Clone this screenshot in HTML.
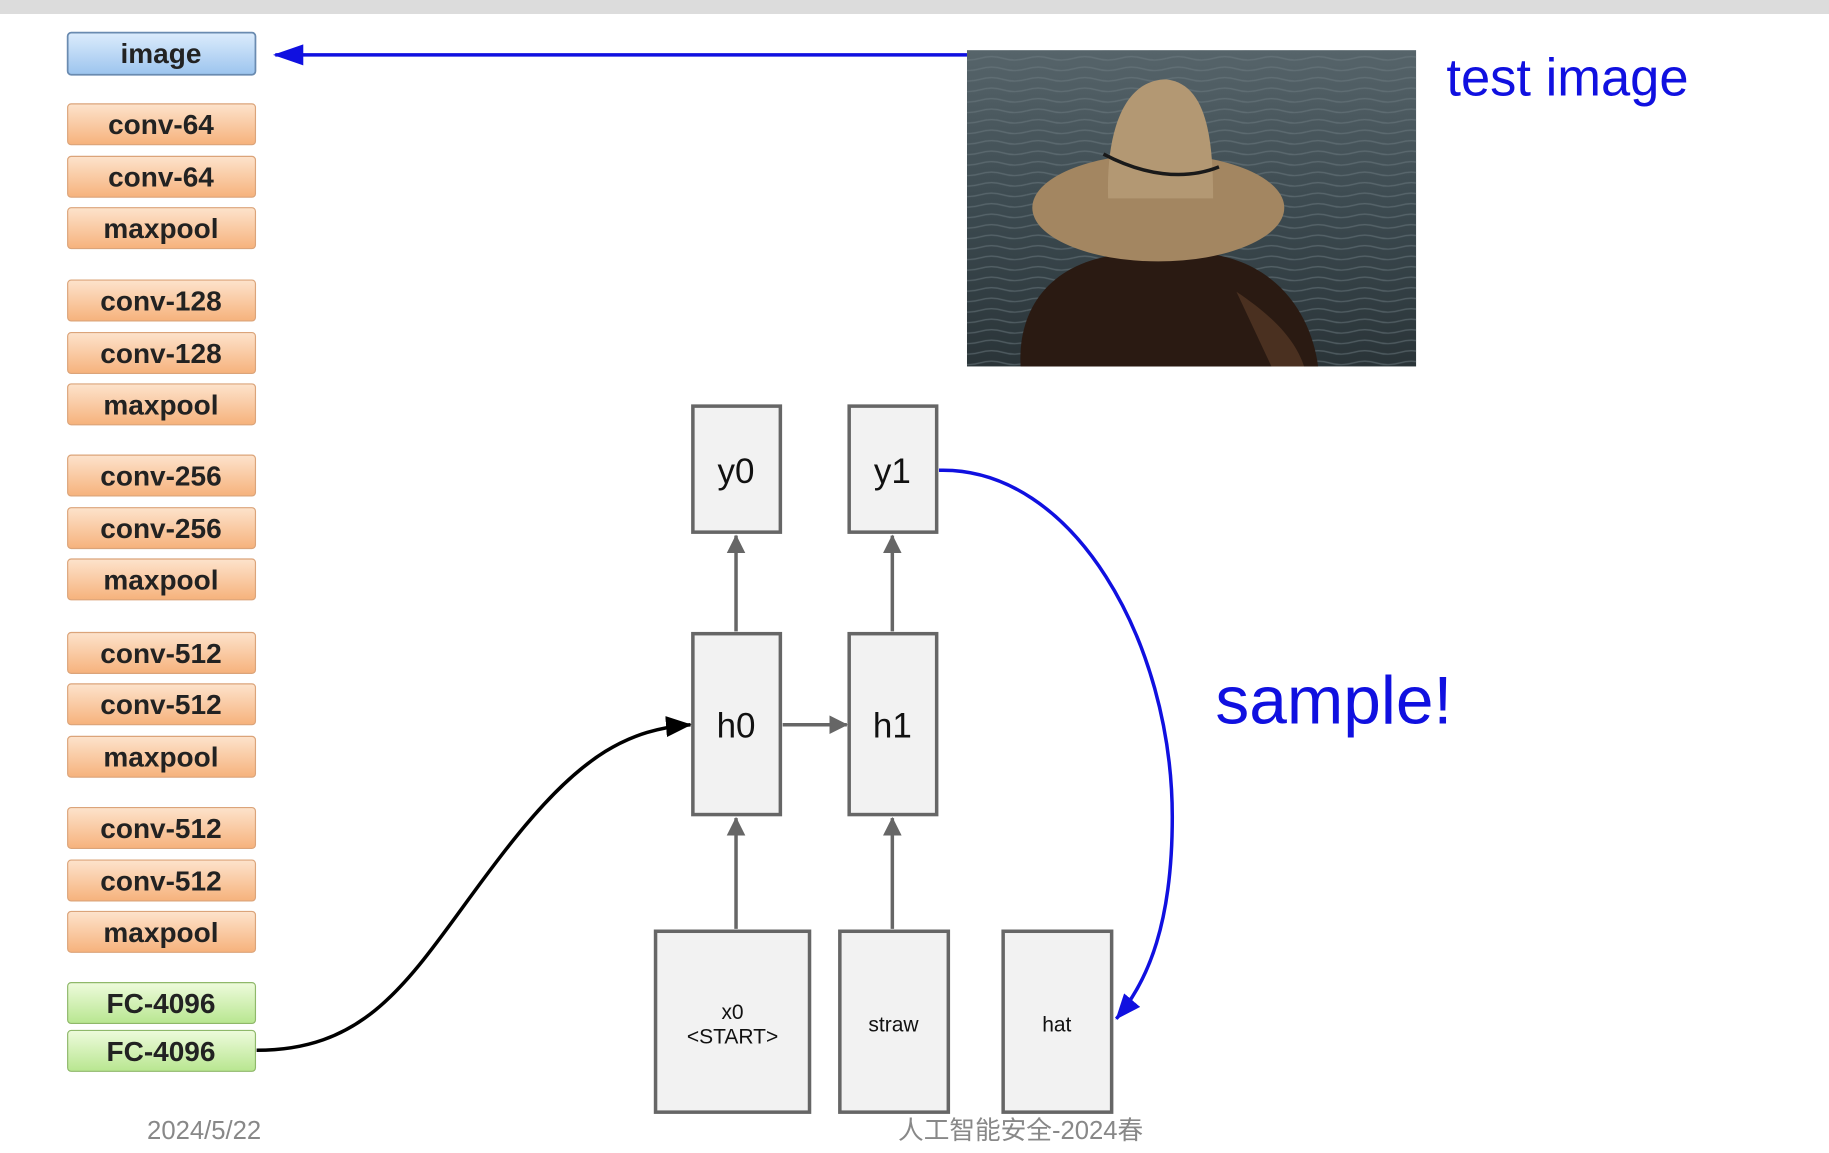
<!DOCTYPE html>
<html><head><meta charset="utf-8"><style>
html,body{margin:0;padding:0;background:#fff;width:1829px;height:1153px;overflow:hidden}
svg{display:block}
.l{font-family:"Liberation Sans",sans-serif;font-weight:bold;font-size:24px;fill:#222;text-anchor:middle}
.n{font-family:"Liberation Sans",sans-serif;font-size:30px;fill:#111;text-anchor:middle}
.s{font-family:"Liberation Sans",sans-serif;font-size:18px;fill:#111;text-anchor:middle}
</style></head><body>
<svg width="1829" height="1153" viewBox="0 0 1568 988" preserveAspectRatio="none">
<defs>
<linearGradient id="or" x1="0" y1="0" x2="0" y2="1"><stop offset="0" stop-color="#fde3cc"/><stop offset="1" stop-color="#f6b27c"/></linearGradient>
<linearGradient id="bl" x1="0" y1="0" x2="0" y2="1"><stop offset="0" stop-color="#dcecfc"/><stop offset="1" stop-color="#9cc4ee"/></linearGradient>
<linearGradient id="gr" x1="0" y1="0" x2="0" y2="1"><stop offset="0" stop-color="#eefbdc"/><stop offset="1" stop-color="#b8e690"/></linearGradient>
<linearGradient id="sea" x1="0" y1="0" x2="0" y2="1"><stop offset="0" stop-color="#56646a"/><stop offset="0.5" stop-color="#3c4a50"/><stop offset="1" stop-color="#2a3438"/></linearGradient>
<pattern id="wv" width="40" height="9" patternUnits="userSpaceOnUse"><path d="M0,5 Q10,2 20,5 T40,5" stroke="#6f7e84" stroke-width="1.2" fill="none" opacity="0.5"/></pattern>
<marker id="ag" markerWidth="16" markerHeight="16" refX="15" refY="8" orient="auto" markerUnits="userSpaceOnUse"><path d="M0,0 L16,8 L0,16z" fill="#666"/></marker>
<marker id="ak" markerWidth="22" markerHeight="18" refX="21" refY="9" orient="auto" markerUnits="userSpaceOnUse"><path d="M0,0 L22,9 L0,18z" fill="#000"/></marker>
<marker id="abig" markerWidth="22" markerHeight="18" refX="21" refY="9" orient="auto" markerUnits="userSpaceOnUse"><path d="M0,0 L22,9 L0,18z" fill="#1010e0"/></marker>
</defs>
<rect x="0" y="0" width="1568" height="12" fill="#dcdcdc"/>
<g>
<rect x="58" y="28" width="161" height="36" rx="3" fill="url(#bl)" stroke="#6a8bb0" stroke-width="1.5"/><text class="l" x="138" y="54">image</text>
<g fill="url(#or)" stroke="#dba47a" stroke-width="1">
<rect x="58" y="89" width="161" height="35" rx="3"/><rect x="58" y="134" width="161" height="35" rx="3"/><rect x="58" y="178" width="161" height="35" rx="3"/>
<rect x="58" y="240" width="161" height="35" rx="3"/><rect x="58" y="285" width="161" height="35" rx="3"/><rect x="58" y="329" width="161" height="35" rx="3"/>
<rect x="58" y="390" width="161" height="35" rx="3"/><rect x="58" y="435" width="161" height="35" rx="3"/><rect x="58" y="479" width="161" height="35" rx="3"/>
<rect x="58" y="542" width="161" height="35" rx="3"/><rect x="58" y="586" width="161" height="35" rx="3"/><rect x="58" y="631" width="161" height="35" rx="3"/>
<rect x="58" y="692" width="161" height="35" rx="3"/><rect x="58" y="737" width="161" height="35" rx="3"/><rect x="58" y="781" width="161" height="35" rx="3"/>
</g>
<rect x="58" y="842" width="161" height="35" rx="3" fill="url(#gr)" stroke="#8fb86a"/><rect x="58" y="883" width="161" height="35" rx="3" fill="url(#gr)" stroke="#8fb86a"/>
<text class="l" x="138" y="115">conv-64</text><text class="l" x="138" y="160">conv-64</text><text class="l" x="138" y="204">maxpool</text>
<text class="l" x="138" y="266">conv-128</text><text class="l" x="138" y="311">conv-128</text><text class="l" x="138" y="355">maxpool</text>
<text class="l" x="138" y="416">conv-256</text><text class="l" x="138" y="461">conv-256</text><text class="l" x="138" y="505">maxpool</text>
<text class="l" x="138" y="568">conv-512</text><text class="l" x="138" y="612">conv-512</text><text class="l" x="138" y="657">maxpool</text>
<text class="l" x="138" y="718">conv-512</text><text class="l" x="138" y="763">conv-512</text><text class="l" x="138" y="807">maxpool</text>
<text class="l" x="138" y="868">FC-4096</text><text class="l" x="138" y="909">FC-4096</text>
</g>
<line x1="829" y1="47" x2="236" y2="47" stroke="#1010e0" stroke-width="3"/><path d="M234,47 L260,38 L260,56z" fill="#1010e0"/>
<rect x="829" y="43" width="385" height="271" fill="url(#sea)"/>
<rect x="829" y="43" width="385" height="271" fill="url(#wv)"/>
<path d="M875,314 C872,265 900,225 960,218 L1040,218 C1100,228 1125,275 1130,314z" fill="#2a1a12"/>
<path d="M1060,250 C1090,270 1110,290 1118,314 L1090,314z" fill="#4a3020"/>
<ellipse cx="993" cy="178" rx="108" ry="46" fill="#a38661"/>
<path d="M950,170 C948,110 965,68 1000,68 C1035,72 1040,120 1040,170z" fill="#b39873"/>
<path d="M946,132 C980,150 1015,155 1045,143" stroke="#1a1a1a" stroke-width="3" fill="none"/>
<text x="1240" y="82" font-family="Liberation Sans,sans-serif" font-size="45" fill="#1010e0">test image</text>
<text x="1042" y="620" font-family="Liberation Sans,sans-serif" font-size="58" fill="#1010e0">sample!</text>
<g fill="#f2f2f2" stroke="#666" stroke-width="3">
<rect x="594" y="348" width="75" height="108"/><rect x="728" y="348" width="75" height="108"/>
<rect x="594" y="543" width="75" height="155"/><rect x="728" y="543" width="75" height="155"/>
<rect x="562" y="798" width="132" height="155"/><rect x="720" y="798" width="93" height="155"/><rect x="860" y="798" width="93" height="155"/>
</g>
<text class="n" x="631" y="414">y0</text><text class="n" x="765" y="414">y1</text>
<text class="n" x="631" y="632">h0</text><text class="n" x="765" y="632">h1</text>
<text class="s" x="628" y="873">x0</text><text class="s" x="628" y="894">&lt;START&gt;</text>
<text class="s" x="766" y="884">straw</text><text class="s" x="906" y="884">hat</text>
<g stroke="#666" stroke-width="3" fill="none">
<line x1="631" y1="541" x2="631" y2="459" marker-end="url(#ag)"/><line x1="765" y1="541" x2="765" y2="459" marker-end="url(#ag)"/>
<line x1="631" y1="796" x2="631" y2="701" marker-end="url(#ag)"/><line x1="765" y1="796" x2="765" y2="701" marker-end="url(#ag)"/>
<line x1="671" y1="621" x2="726" y2="621" marker-end="url(#ag)"/>
</g>
<path d="M220,900 C330,900 360,820 440,720 C500,645 540,625 592,621" stroke="#000" stroke-width="3" fill="none" marker-end="url(#ak)"/>
<path d="M805,403 C920,400 1005,550 1005,700 C1005,790 985,840 957,873" stroke="#1010e0" stroke-width="3" fill="none" marker-end="url(#abig)"/>
<text x="175" y="976" font-family="Liberation Sans,sans-serif" font-size="22" fill="#888" text-anchor="middle">2024/5/22</text>
<text x="875" y="976" font-family="Liberation Sans,'Noto Sans CJK SC',sans-serif" font-size="22" fill="#888" text-anchor="middle">人工智能安全-2024春</text>
</svg>
</body></html>
